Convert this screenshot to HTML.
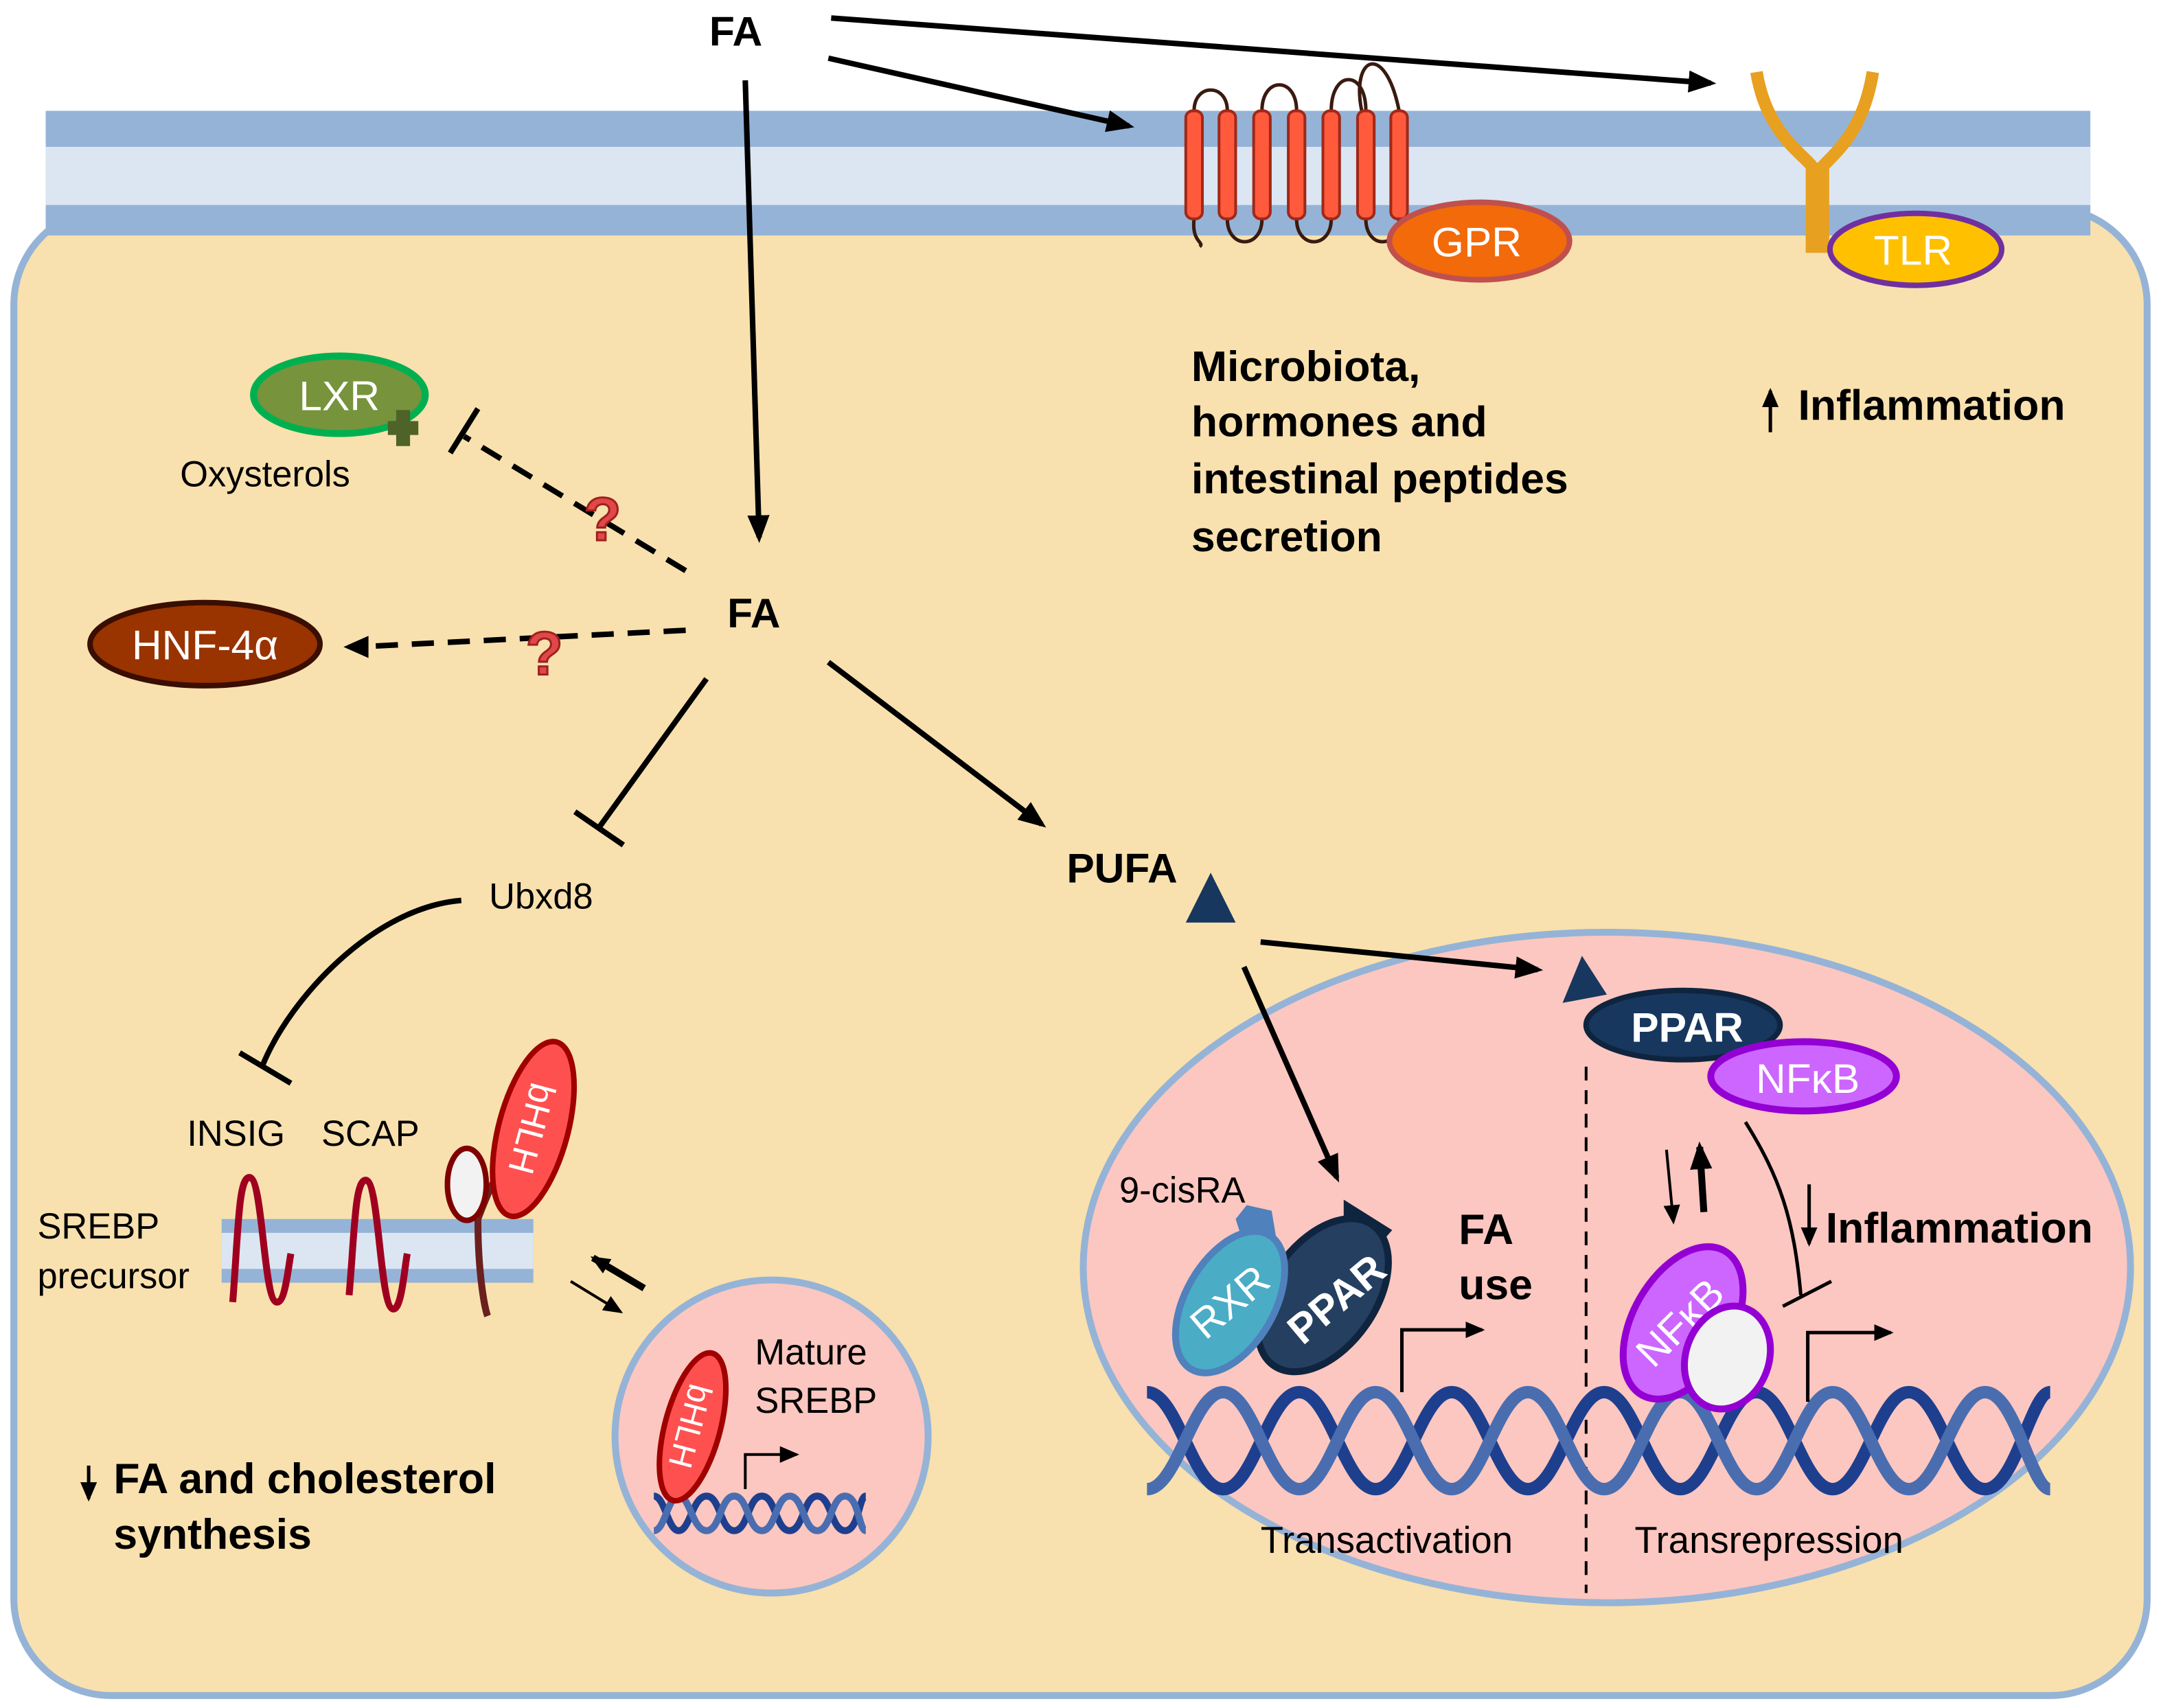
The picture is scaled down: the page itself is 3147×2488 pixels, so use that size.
<!DOCTYPE html>
<html><head><meta charset="utf-8"><style>
html,body{margin:0;padding:0;background:#fff;}
svg{display:block;}
text{font-family:"Liberation Sans",Arial,sans-serif;}
.b{font-weight:bold;}
</style></head><body>
<svg width="3147" height="2488" viewBox="0 0 1560 1233" preserveAspectRatio="none" xmlns="http://www.w3.org/2000/svg">
<defs>
<marker id="a2" markerWidth="20" markerHeight="16" refX="16" refY="8" orient="auto" markerUnits="userSpaceOnUse"><path d="M0,0 L20,8 L0,16 z" fill="#000"/></marker>
<marker id="a3" markerWidth="14" markerHeight="12" refX="12" refY="6" orient="auto" markerUnits="userSpaceOnUse"><path d="M0,0 L14,6 L0,12 z" fill="#000"/></marker>
</defs>
<rect width="1560" height="1233" fill="#fff"/>
<rect x="10" y="150" width="1540" height="1074" rx="70" fill="#f8e1ae" stroke="#95b3d7" stroke-width="5"/>
<rect x="33" y="80" width="1476" height="90" fill="#95b3d7"/>
<rect x="33" y="106" width="1476" height="42" fill="#dce6f2"/>
<text x="512" y="33" class="b" font-size="30">FA</text>
<line x1="600" y1="13" x2="1235" y2="60" stroke="#000" stroke-width="4" marker-end="url(#a2)"/>
<line x1="598" y1="42" x2="815" y2="91" stroke="#000" stroke-width="4" marker-end="url(#a2)"/>
<line x1="538" y1="58" x2="548" y2="388" stroke="#000" stroke-width="4" marker-end="url(#a2)"/>
<path d="M862,80 C862,60 886,60 886,80 M911,80 C911,55 936,55 936,80 M961,80 C961,50 986,50 986,80 M983,80 C975,40 1000,30 1010,80 M886,158 C886,180 911,180 911,158 M936,158 C936,180 961,180 961,158 M986,158 C986,180 1010,180 1010,158 M862,158 C860,175 870,175 866,178" fill="none" stroke="#3a1a10" stroke-width="2.5"/>
<g fill="#ff5a3c" stroke="#a02818" stroke-width="2">
<rect x="856" y="80" width="12" height="78" rx="5"/><rect x="880" y="80" width="12" height="78" rx="5"/>
<rect x="905" y="80" width="12" height="78" rx="5"/><rect x="930" y="80" width="12" height="78" rx="5"/>
<rect x="955" y="80" width="12" height="78" rx="5"/><rect x="980" y="80" width="12" height="78" rx="5"/>
<rect x="1004" y="80" width="12" height="78" rx="5"/>
</g>
<ellipse cx="1068" cy="174" rx="65" ry="28" fill="#f26a0a" stroke="#c0504d" stroke-width="4"/>
<text x="1066" y="185" font-size="30" fill="#fff" text-anchor="middle">GPR</text>
<path d="M1268,52 C1275,95 1300,110 1308,120 L1308,178 L1316,178 L1316,120 C1325,110 1345,95 1352,52" fill="none" stroke="#e8a020" stroke-width="9"/>
<ellipse cx="1383" cy="180" rx="62" ry="26" fill="#ffc000" stroke="#7030a0" stroke-width="4"/>
<text x="1381" y="191" font-size="30" fill="#fff" text-anchor="middle">TLR</text>
<text class="b" font-size="31"><tspan x="860" y="275">Microbiota,</tspan><tspan x="860" y="315">hormones and</tspan><tspan x="860" y="356">intestinal peptides</tspan><tspan x="860" y="398">secretion</tspan></text>
<line x1="1278" y1="312" x2="1278" y2="282" stroke="#000" stroke-width="2.5" marker-end="url(#a3)"/>
<text x="1298" y="303" class="b" font-size="31">Inflammation</text>
<ellipse cx="245" cy="285" rx="62" ry="28" fill="#77933c" stroke="#00b050" stroke-width="5"/>
<text x="245" y="296" font-size="30" fill="#fff" text-anchor="middle">LXR</text>
<path d="M280,304 h22 v10 h-22 z M286,296 h10 v26 h-10 z" fill="#4f6228"/>
<text x="130" y="351" font-size="26">Oxysterols</text>
<line x1="495" y1="412" x2="335" y2="315" stroke="#000" stroke-width="4" stroke-dasharray="16,10"/>
<line x1="325" y1="327" x2="345" y2="295" stroke="#000" stroke-width="4"/>
<text x="435" y="390" font-size="44" class="b" fill="#e04848" stroke="#a02020" stroke-width="1.5" text-anchor="middle">?</text>
<ellipse cx="148" cy="465" rx="83" ry="30" fill="#993300" stroke="#3a0e00" stroke-width="4"/>
<text x="148" y="476" font-size="30" fill="#fff" text-anchor="middle">HNF-4α</text>
<line x1="495" y1="455" x2="258" y2="467" stroke="#000" stroke-width="4" stroke-dasharray="16,10"/>
<path d="M248,467 L266,459 L266,475 z" fill="#000"/>
<text x="393" y="487" font-size="44" class="b" fill="#e04848" stroke="#a02020" stroke-width="1.5" text-anchor="middle">?</text>
<text x="525" y="453" class="b" font-size="30">FA</text>
<line x1="510" y1="490" x2="432" y2="598" stroke="#000" stroke-width="4"/>
<line x1="415" y1="586" x2="450" y2="610" stroke="#000" stroke-width="4"/>
<text x="353" y="656" font-size="26">Ubxd8</text>
<path d="M333,650 C270,655 210,720 190,768" fill="none" stroke="#000" stroke-width="4"/>
<line x1="173" y1="760" x2="210" y2="782" stroke="#000" stroke-width="4"/>
<line x1="598" y1="478" x2="752" y2="595" stroke="#000" stroke-width="4" marker-end="url(#a2)"/>
<text x="770" y="637" class="b" font-size="30">PUFA</text>
<path d="M856,666 L874,630 L892,666 z" fill="#17375e"/>
<ellipse cx="1160" cy="915" rx="378" ry="242" fill="#fbc7c0" stroke="#95b3d7" stroke-width="5"/>
<line x1="910" y1="680" x2="1110" y2="700" stroke="#000" stroke-width="4" marker-end="url(#a2)"/>
<line x1="898" y1="698" x2="965" y2="850" stroke="#000" stroke-width="4" marker-end="url(#a2)"/>
<line x1="1145" y1="770" x2="1145" y2="1150" stroke="#000" stroke-width="2" stroke-dasharray="10,7"/>
<path d="M1128,724 L1142,690 L1160,718 z" fill="#17375e"/>
<ellipse cx="1215" cy="740" rx="70" ry="25" fill="#17375e" stroke="#0f243e" stroke-width="4"/>
<text x="1218" y="752" class="b" font-size="30" fill="#fff" text-anchor="middle">PPAR</text>
<ellipse cx="1302" cy="777" rx="67" ry="25" fill="#cc66ff" stroke="#9400d3" stroke-width="5"/>
<text x="1305" y="789" font-size="30" fill="#fff" text-anchor="middle">NFκB</text>
<line x1="1203" y1="830" x2="1208" y2="882" stroke="#000" stroke-width="2" marker-end="url(#a3)"/>
<line x1="1230" y1="875" x2="1227" y2="828" stroke="#000" stroke-width="5" marker-end="url(#a2)"/>
<path d="M1260,810 C1285,850 1295,880 1300,935" fill="none" stroke="#000" stroke-width="2.5"/>
<line x1="1287" y1="943" x2="1322" y2="925" stroke="#000" stroke-width="2.5"/>
<line x1="1306" y1="855" x2="1306" y2="898" stroke="#000" stroke-width="2.5" marker-end="url(#a3)"/>
<text x="1318" y="897" class="b" font-size="31">Inflammation</text>
<text class="b" font-size="31"><tspan x="1053" y="898">FA</tspan><tspan x="1053" y="938">use</tspan></text>
<text x="808" y="868" font-size="26">9-cisRA</text>
<g fill="none" stroke-width="9">
<path d="M828,1005 C850,1005 861,1075 883,1075 S916,1005 938,1005 S971,1075 993,1075 S1026,1005 1048,1005 S1081,1075 1103,1075 S1136,1005 1158,1005 S1191,1075 1213,1075 S1246,1005 1268,1005 S1301,1075 1323,1075 S1356,1005 1378,1005 S1411,1075 1433,1075 S1466,1005 1480,1005" stroke="#1e3f8e"/>
<path d="M828,1075 C850,1075 861,1005 883,1005 S916,1075 938,1075 S971,1005 993,1005 S1026,1075 1048,1075 S1081,1005 1103,1005 S1136,1075 1158,1075 S1191,1005 1213,1005 S1246,1075 1268,1075 S1301,1005 1323,1005 S1356,1075 1378,1075 S1411,1005 1433,1005 S1466,1075 1480,1075" stroke="#4a6db0"/>
</g>
<path d="M892,880 L900,870 L918,874 L922,898 L910,912 L900,905 z" fill="#4f81bd"/>
<path d="M970,866 L1005,888 L990,905 L970,912 z" fill="#0f243e"/>
<ellipse cx="955" cy="935" rx="38" ry="62" transform="rotate(35 955 935)" fill="#243f60" stroke="#0f243e" stroke-width="5"/>
<text x="965" y="948" class="b" font-size="30" fill="#fff" text-anchor="middle" transform="rotate(-40 965 938)">PPAR</text>
<ellipse cx="888" cy="940" rx="32" ry="56" transform="rotate(30 888 940)" fill="#4bacc6" stroke="#4f81bd" stroke-width="5"/>
<text x="888" y="950" font-size="30" fill="#fff" text-anchor="middle" transform="rotate(-40 888 940)">RXR</text>
<ellipse cx="1215" cy="955" rx="36" ry="60" transform="rotate(30 1215 955)" fill="#cc66ff" stroke="#9400d3" stroke-width="5"/>
<text x="1213" y="965" font-size="30" fill="#fff" text-anchor="middle" transform="rotate(-45 1213 955)">NFκB</text>
<ellipse cx="1247" cy="980" rx="30" ry="38" transform="rotate(20 1247 980)" fill="#f2f2f2" stroke="#9400d3" stroke-width="5"/>
<path d="M1012,1005 V960 H1070" fill="none" stroke="#000" stroke-width="2.5" marker-end="url(#a3)"/>
<path d="M1305,1012 V962 H1365" fill="none" stroke="#000" stroke-width="2.5" marker-end="url(#a3)"/>
<text x="910" y="1121" font-size="27">Transactivation</text>
<text x="1180" y="1121" font-size="27">Transrepression</text>
<text x="135" y="827" font-size="26">INSIG</text>
<text x="232" y="827" font-size="26">SCAP</text>
<text font-size="26"><tspan x="27" y="894">SREBP</tspan><tspan x="27" y="930">precursor</tspan></text>
<rect x="160" y="880" width="225" height="46" fill="#95b3d7"/>
<rect x="160" y="890" width="225" height="26" fill="#dce6f2"/>
<g fill="none" stroke="#a00020" stroke-width="5">
<path d="M168,940 C172,890 172,850 180,850 C190,850 190,940 200,940 C206,940 208,915 210,905"/>
<path d="M252,935 C256,890 256,852 264,852 C274,852 274,945 284,945 C290,945 292,915 294,905"/>
</g>
<path d="M345,880 C345,920 350,945 352,950" fill="none" stroke="#6b2020" stroke-width="5"/>
<path d="M345,880 C360,840 370,830 372,825" fill="none" stroke="#6b2020" stroke-width="5"/>
<ellipse cx="337" cy="855" rx="14" ry="26" fill="#f2f2f2" stroke="#800000" stroke-width="4"/>
<ellipse cx="385" cy="815" rx="25" ry="65" transform="rotate(15 385 815)" fill="#ff5050" stroke="#a00000" stroke-width="4"/>
<text x="385" y="825" font-size="26" fill="#fff" text-anchor="middle" transform="rotate(105 385 815)">bHLH</text>
<line x1="465" y1="930" x2="428" y2="908" stroke="#000" stroke-width="5" marker-end="url(#a3)"/>
<line x1="412" y1="925" x2="448" y2="947" stroke="#000" stroke-width="2" marker-end="url(#a3)"/>
<circle cx="557" cy="1037" r="113" fill="#fbc7c0" stroke="#95b3d7" stroke-width="5"/>
<g fill="none" stroke-width="5">
<path d="M472,1080 C480,1080 482,1105 490,1105 S500,1080 510,1080 S520,1105 530,1105 S540,1080 550,1080 S560,1105 570,1105 S580,1080 590,1080 S600,1105 610,1105 S620,1080 625,1080" stroke="#1e3f8e"/>
<path d="M472,1105 C480,1105 482,1080 490,1080 S500,1105 510,1105 S520,1080 530,1080 S540,1105 550,1105 S560,1080 570,1080 S580,1105 590,1105 S600,1080 610,1080 S620,1105 625,1105" stroke="#4a6db0"/>
</g>
<ellipse cx="500" cy="1030" rx="20" ry="55" transform="rotate(15 500 1030)" fill="#ff5050" stroke="#a00000" stroke-width="4"/>
<text x="500" y="1040" font-size="24" fill="#fff" text-anchor="middle" transform="rotate(105 500 1030)">bHLH</text>
<path d="M538,1075 V1050 H575" fill="none" stroke="#000" stroke-width="2" marker-end="url(#a3)"/>
<text font-size="26"><tspan x="545" y="985">Mature</tspan><tspan x="545" y="1020">SREBP</tspan></text>
<line x1="64" y1="1058" x2="64" y2="1082" stroke="#000" stroke-width="2.5" marker-end="url(#a3)"/>
<text class="b" font-size="31"><tspan x="82" y="1078">FA and cholesterol</tspan><tspan x="82" y="1118">synthesis</tspan></text>
</svg>
</body></html>
